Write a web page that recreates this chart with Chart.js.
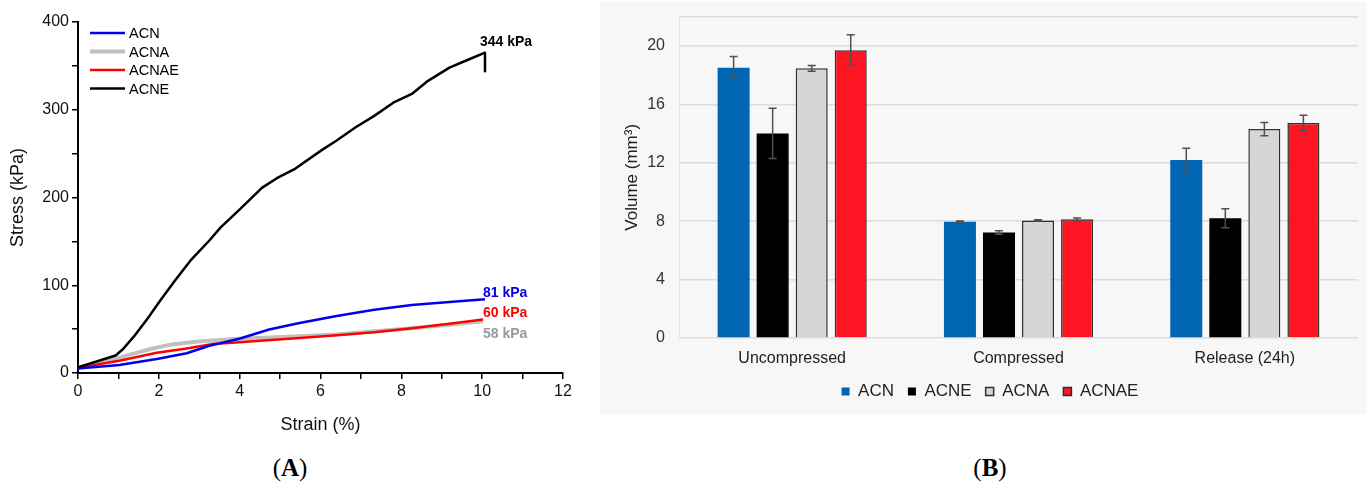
<!DOCTYPE html>
<html>
<head>
<meta charset="utf-8">
<script src="https://cdn.jsdelivr.net/npm/chart.js@4.4.1/dist/chart.umd.min.js"></script>
<style>
html, body { margin: 0; padding: 0; background: #fff; width: 1368px; height: 490px; overflow: hidden; font-family: "Liberation Sans", Arial, sans-serif; }
#panelA { position: absolute; left: 0; top: 0; width: 590px; height: 445px; }
#panelB { position: absolute; left: 600px; top: 2px; width: 766px; height: 412px; background: #f7f7f7; }
#panelB .inner { position: absolute; left: 0; top: -9px; width: 766px; height: 421px; }
.figlabel { position: absolute; top: 454px; width: 100px; text-align: center; font-family: "Liberation Serif", "Times New Roman", serif; font-size: 25px; color: #000; }
</style>
</head>
<body>
<div id="panelA"><canvas id="stress-grafika"></canvas></div>
<div id="panelB"><div class="inner"><canvas id="volume-grafika"></canvas></div></div>
<div class="figlabel" style="left:240px">(<b>A</b>)</div>
<div class="figlabel" style="left:940px">(<b>B</b>)</div>
<script>
// --- (A) stress-strain curves ---
const strainACN   = [0, 1.02, 1.95, 2.69, 3.25, 3.99, 4.73, 5.48, 6.40, 7.33, 8.26, 9.19, 10.07];
const stressACN   = [5, 9, 16, 22.5, 31, 39, 49.5, 57, 65, 72, 77.6, 81, 84];
const strainACNA  = [0, 1.02, 1.76, 2.32, 2.97, 3.99, 5.48, 6.40, 7.33, 8.26, 9.19, 10.02];
const stressACNA  = [6, 17.6, 27, 32.6, 36, 39, 42, 44, 47.6, 51, 55, 59];
const strainACNAE = [0, 1.02, 1.95, 2.69, 3.34, 3.99, 5.48, 6.40, 7.33, 8.26, 9.19, 10.02];
const stressACNAE = [6, 14, 23, 28, 33, 35, 40, 43, 46.5, 51, 56, 61];
const strainACNE  = [0, 0.93, 1.11, 1.39, 1.76, 2.04, 2.41, 2.78, 3.25, 3.53, 3.99, 4.55, 4.92, 5.38, 6.03, 6.40, 6.87, 7.33, 7.80, 8.26, 8.63, 9.19, 9.65, 10.07, 10.07];
const stressACNE  = [6.4, 20, 27, 42, 64.5, 83, 106, 128, 151, 166, 186, 211, 222, 233, 254, 265, 280, 293, 308, 318, 332, 348, 357, 365, 344];
const endLabels   = { ACN: '81 kPa', ACNA: '58 kPa', ACNAE: '60 kPa', ACNE: '344 kPa' };

// --- (B) volume bars ---
const conditions = ['Uncompressed', 'Compressed', 'Release (24h)'];
const volACN   = [18.5, 7.96, 12.18];
const errACN   = [0.77, 0.05, 0.8];
const volACNE  = [14.0, 7.22, 8.2];
const errACNE  = [1.72, 0.12, 0.65];
const volACNA  = [18.46, 8.05, 14.3];
const errACNA  = [0.2, 0.04, 0.45];
const volACNAE = [19.7, 8.12, 14.72];
const errACNAE = [1.05, 0.1, 0.53];

const FONT = '"Liberation Sans", Arial, sans-serif';
Chart.defaults.font.family = FONT;
Chart.defaults.animation = false;

function toPoints(xs, ys) {
    return xs.map((x, i) => ({ x: x, y: ys[i] }));
}

// legend drawn inside the plot, top left
const insideLegend = {
    id: 'insideLegend',
    afterDraw(chart) {
        const ctx = chart.ctx;
        const area = chart.chartArea;
        const names = ['ACN', 'ACNA', 'ACNAE', 'ACNE'];
        ctx.save();
        ctx.font = '14.5px ' + FONT;
        ctx.textBaseline = 'middle';
        names.forEach((name, i) => {
            const ds = chart.data.datasets.find(d => d.label === name);
            const y = area.top + 11 + i * 18.5;
            ctx.strokeStyle = ds.borderColor;
            ctx.lineWidth = ds.borderWidth;
            ctx.beginPath();
            ctx.moveTo(area.left + 12, y);
            ctx.lineTo(area.left + 47, y);
            ctx.stroke();
            ctx.fillStyle = '#000';
            ctx.fillText(name, area.left + 51, y + 1);
        });
        ctx.restore();
    }
};

// value labels next to the end of each curve
const curveEndLabels = {
    id: 'curveEndLabels',
    afterDatasetsDraw(chart) {
        const ctx = chart.ctx;
        const offsets = { ACN: [-2, -6.5], ACNA: [0, 13], ACNAE: [0, -6], ACNE: [-5, -29] };
        ctx.save();
        ctx.font = 'bold 14px ' + FONT;
        ctx.textBaseline = 'middle';
        chart.data.datasets.forEach((ds, i) => {
            const pts = chart.getDatasetMeta(i).data;
            const last = pts[pts.length - 1];
            const off = offsets[ds.label];
            ctx.fillStyle = ds.labelColor;
            ctx.fillText(endLabels[ds.label], last.x + off[0], last.y + off[1]);
        });
        ctx.restore();
    }
};

const axisTickFont = { size: 16, family: FONT };

new Chart(document.getElementById('stress-grafika'), {
    type: 'line',
    data: {
        datasets: [
            { label: 'ACNE',  data: toPoints(strainACNE, stressACNE),   borderColor: '#000000', borderWidth: 2.5, labelColor: '#000000', order: 0 },
            { label: 'ACN',   data: toPoints(strainACN, stressACN),     borderColor: '#0000f0', borderWidth: 2.5, labelColor: '#0000e6', order: 1 },
            { label: 'ACNAE', data: toPoints(strainACNAE, stressACNAE), borderColor: '#ff0000', borderWidth: 2.5, labelColor: '#ff0000', order: 2 },
            { label: 'ACNA',  data: toPoints(strainACNA, stressACNA),   borderColor: '#c0c0c0', borderWidth: 4,   labelColor: '#999999', order: 3 }
        ]
    },
    options: {
        responsive: true,
        maintainAspectRatio: false,
        elements: { point: { radius: 0 }, line: { tension: 0, borderJoinStyle: 'round', borderCapStyle: 'butt' } },
        layout: { padding: { top: 22, right: 27, left: 0, bottom: 0 } },
        plugins: { legend: { display: false }, tooltip: { enabled: false } },
        scales: {
            x: {
                type: 'linear', min: 0, max: 12,
                ticks: { stepSize: 1, autoSkip: false, maxRotation: 0, padding: 3, color: '#111', font: axisTickFont,
                         callback: v => (v % 2 === 0 ? v : '') },
                grid: { display: true, drawOnChartArea: false, drawTicks: true, tickLength: 6, color: '#000', lineWidth: 1.5 },
                border: { display: true, color: '#000', width: 2 },
                title: { display: true, text: 'Strain (%)', color: '#111', font: { size: 18 }, padding: { bottom: 9 } },
                afterFit: s => { s.height = 72; }
            },
            y: {
                min: 0, max: 400,
                ticks: { stepSize: 50, autoSkip: false, padding: 3, color: '#111', font: axisTickFont,
                         callback: v => (v % 100 === 0 ? v : '') },
                grid: { display: true, drawOnChartArea: false, drawTicks: true, tickLength: 6, color: '#000', lineWidth: 1.5 },
                border: { display: true, color: '#000', width: 2 },
                title: { display: true, text: 'Stress (kPa)', color: '#111', font: { size: 18 }, padding: { top: 7 } },
                afterFit: s => { s.width = 78; }
            }
        }
    },
    plugins: [insideLegend, curveEndLabels]
});

// error bars drawn on top of the bars
const errorBars = {
    id: 'errorBars',
    afterDatasetsDraw(chart) {
        const ctx = chart.ctx;
        const yScale = chart.scales.y;
        ctx.save();
        ctx.strokeStyle = '#505050';
        ctx.lineWidth = 1.5;
        chart.data.datasets.forEach((ds, i) => {
            chart.getDatasetMeta(i).data.forEach((bar, j) => {
                const v = ds.data[j], e = ds.errors[j];
                const yTop = yScale.getPixelForValue(v + e);
                const yBot = yScale.getPixelForValue(v - e);
                ctx.beginPath();
                ctx.moveTo(bar.x, yTop); ctx.lineTo(bar.x, yBot);
                ctx.moveTo(bar.x - 4, yTop); ctx.lineTo(bar.x + 4, yTop);
                ctx.moveTo(bar.x - 4, yBot); ctx.lineTo(bar.x + 4, yBot);
                ctx.stroke();
            });
        });
        ctx.restore();
    }
};

new Chart(document.getElementById('volume-grafika'), {
    type: 'bar',
    data: {
        labels: conditions,
        datasets: [
            { label: 'ACN',   data: volACN,   errors: errACN,   backgroundColor: '#0066b3', borderColor: '#0066b3', borderWidth: 0 },
            { label: 'ACNE',  data: volACNE,  errors: errACNE,  backgroundColor: '#000000', borderColor: '#000000', borderWidth: 0 },
            { label: 'ACNA',  data: volACNA,  errors: errACNA,  backgroundColor: '#d6d6d6', borderColor: '#2e2e2e', borderWidth: 1.5 },
            { label: 'ACNAE', data: volACNAE, errors: errACNAE, backgroundColor: '#ff1423', borderColor: '#2e2e2e', borderWidth: 1.5 }
        ]
    },
    options: {
        responsive: true,
        maintainAspectRatio: false,
        categoryPercentage: 0.69,
        barPercentage: 0.82,
        layout: { padding: { top: 5, right: 8, left: 22, bottom: 4 } },
        plugins: {
            tooltip: { enabled: false },
            legend: {
                position: 'bottom',
                labels: { boxWidth: 8, boxHeight: 8, padding: 14, color: '#222', font: { size: 17 } }
            }
        },
        scales: {
            x: {
                ticks: { color: '#222', font: { size: 16 }, padding: 11 },
                grid: { display: false, drawTicks: false },
                border: { display: false },
                afterFit: s => { s.height = 31; }
            },
            y: {
                min: 0, max: 22,
                ticks: { stepSize: 4, color: '#333', font: { size: 16 }, padding: 14,
                         callback: v => (v % 4 === 0 ? v : '') },
                grid: { color: '#dcdcdc', lineWidth: 1.5, drawTicks: false },
                border: { display: true, color: '#e6e6e6', width: 1 },
                title: { display: true, text: 'Volume (mm³)', color: '#222', font: { size: 17 }, padding: { top: 0 } },
                afterFit: s => { s.width = 57; }
            }
        }
    },
    plugins: [errorBars]
});
</script>
</body>
</html>
